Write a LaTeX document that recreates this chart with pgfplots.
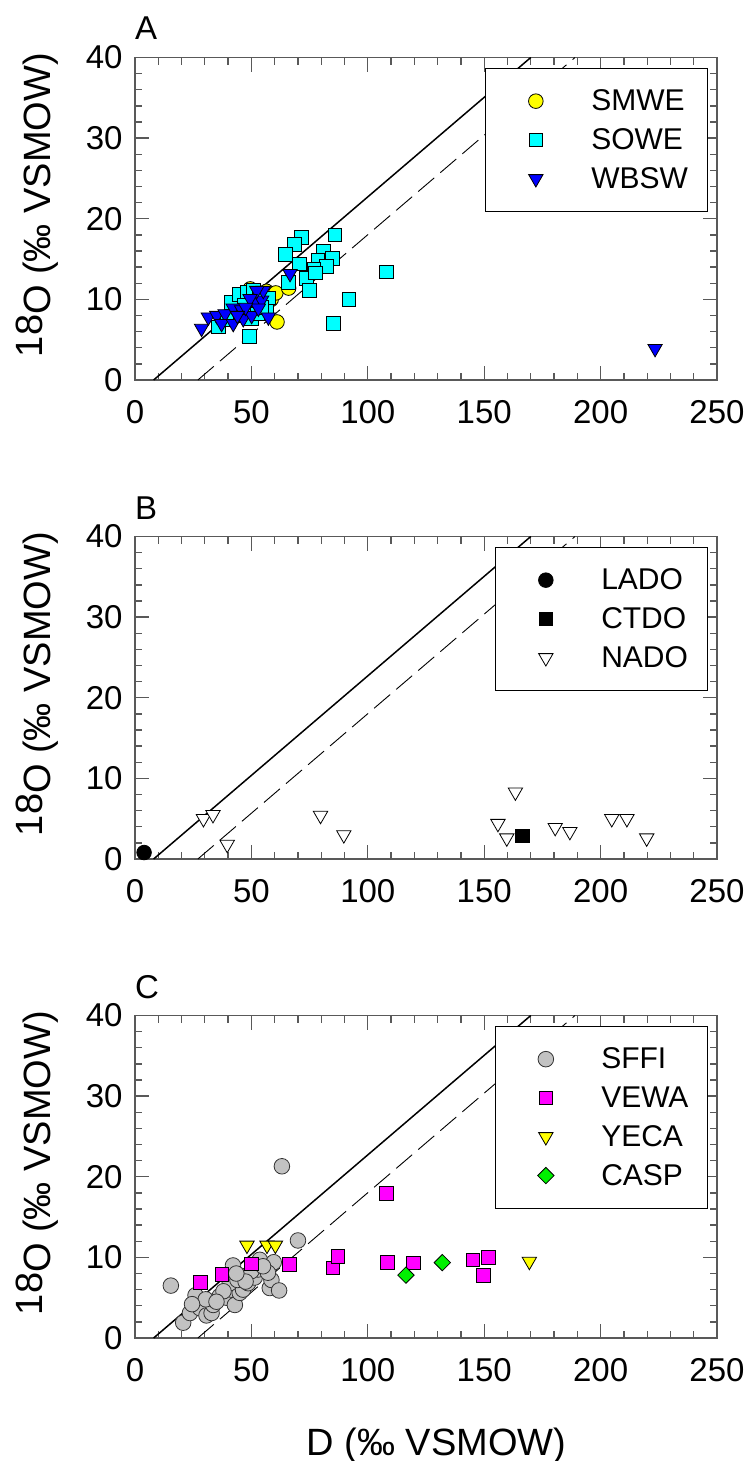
\documentclass[border=0pt]{standalone}
\usepackage{fontspec}
\setmainfont{Liberation Sans}
\usepackage{pgfplots}
\pgfplotsset{compat=1.18}

\definecolor{framegray}{gray}{0.35}
\definecolor{sffigray}{gray}{0.76}
\definecolor{smwe}{RGB}{255,255,0}
\definecolor{sowe}{RGB}{0,255,255}
\definecolor{wbsw}{RGB}{0,0,255}
\definecolor{vewa}{RGB}{255,0,255}
\definecolor{casp}{RGB}{0,240,0}

\pgfplotsset{
  panel/.style={
    scale only axis, width=582pt, height=322.5pt,
    xmin=0, xmax=250, ymin=0, ymax=40,
    xtick={0,50,...,250}, ytick={0,10,...,40},
    minor x tick num=4, minor y tick num=4,
    tick align=inside,
    major tick length=14pt, minor tick length=7pt,
    axis line style={framegray, line width=1.6pt},
    tick style={framegray, line width=1.3pt},
    /pgf/number format/assume math mode=true,
    tick label style={font=\fontsize{33}{40}\selectfont},
    xticklabel style={yshift=-17pt},
    yticklabel style={xshift=-9pt},
    ylabel={\raisebox{8pt}{18}O (‰ VSMOW)},
    ylabel style={at={(axis description cs:-0.146,0.5426)}, anchor=base,
      font=\fontsize{38}{44}\selectfont},
    legend cell align=left,
    legend style={at={(1,1)}, anchor=north east, xshift=-9pt, yshift=-10pt,
      draw=black, line width=1.5pt, fill=white,
      inner xsep=0pt, inner ysep=13.5pt, row sep=0pt, column sep=0pt,
      font=\fontsize{30}{36}\selectfont, nodes={inner sep=0pt}},
    legend image code/.code={%
      \path (0pt,-19pt) (105pt,19pt);
      \draw[##1] plot coordinates {(50pt,0pt)};},
  },
  mk/.style={only marks, line width=0.8pt},
  meteoric/.style={black, line width=1.5pt, forget plot},
  offset/.style={black, line width=0.9pt, dash pattern=on 21pt off 8pt, forget plot},
}

\begin{document}
\begin{tikzpicture}

% ---------------- Panel A ----------------
\begin{axis}[panel, at={(135pt,-380pt)}, anchor=south west]
\addplot[mk, mark=*, mark size=7.3pt, mark options={fill=smwe, draw=black}] table {
x y
49.5 11.3
56.5 11.0
58.5 10.0
60.5 10.8
61.0 7.2
66.0 11.4
55.0 9.0
};
\addlegendentry{\makebox[116pt][l]{SMWE}}
\addplot[mk, mark=square*, mark size=6.8pt, mark options={fill=sowe, draw=black}] table {
x y
71.6 17.7
68.4 16.8
64.6 15.6
85.9 18.0
80.9 16.0
84.8 15.1
78.5 14.8
82.3 14.1
76.8 13.8
70.6 14.4
73.6 12.6
74.9 11.1
65.9 12.1
77.5 13.3
108.1 13.4
91.8 10.0
85.1 7.0
49.1 5.4
41.5 9.6
44.9 10.6
48.1 10.9
50.8 11.1
35.8 6.6
50.1 7.6
56.6 8.7
53.5 10.3
47.0 9.3
44.0 8.0
39.5 7.5
52.5 8.2
57.5 10.2
54.5 9.0
};
\addlegendentry{\makebox[116pt][l]{SOWE}}
\addplot[mk, mark=triangle*, mark size=8.3pt, mark options={rotate=180, fill=wbsw, draw=black}] table {
x y
28.6 6.4
31.5 7.8
35.1 8.0
38.7 8.2
37.2 7.0
42.2 8.9
42.2 7.0
45.8 8.7
46.5 7.6
50.1 8.0
51.5 9.7
54.4 9.9
55.1 11.1
52.3 11.1
53.0 8.9
57.3 7.8
49.4 10.1
47.5 9.0
44.0 8.0
66.6 13.2
223.4 3.9
};
\addlegendentry{\makebox[116pt][l]{WBSW}}
\addplot[meteoric] coordinates {(8,0) (170,40)};
\addplot[offset] coordinates {(27,0) (189,40)};
\end{axis}
\node[anchor=base west, inner sep=0pt, font=\fontsize{33}{40}\selectfont] at (135pt,-40pt) {A};

% ---------------- Panel B ----------------
\begin{axis}[panel, at={(135pt,-859pt)}, anchor=south west]
\addplot[mk, mark=*, mark size=7.3pt, mark options={fill=black, draw=black}] table {
x y
3.9 0.8
};
\addlegendentry{\makebox[106pt][l]{LADO}}
\addplot[mk, mark=square*, mark size=6.8pt, mark options={fill=black, draw=black}] table {
x y
166.3 2.85
};
\addlegendentry{\makebox[106pt][l]{CTDO}}
\addplot[mk, mark=triangle*, mark size=8.3pt, mark options={rotate=180, fill=white, draw=black}] table {
x y
29.4 5.0
33.5 5.5
39.6 1.8
79.7 5.4
89.7 3.0
155.9 4.4
159.7 2.6
163.4 8.3
180.5 3.9
186.8 3.4
204.8 5.0
211.3 5.0
219.8 2.6
};
\addlegendentry{\makebox[106pt][l]{NADO}}
\addplot[meteoric] coordinates {(8,0) (170,40)};
\addplot[offset] coordinates {(27,0) (189,40)};
\end{axis}
\node[anchor=base west, inner sep=0pt, font=\fontsize{33}{40}\selectfont] at (135pt,-519pt) {B};

% ---------------- Panel C ----------------
\begin{axis}[panel, at={(135pt,-1338pt)}, anchor=south west,
  xlabel={D (‰ VSMOW)},
  xlabel style={at={(axis description cs:0.518,-0.3628)}, anchor=base,
    font=\fontsize{38}{44}\selectfont}]
\addplot[mk, mark=*, mark size=7.8pt, mark options={fill=sffigray, draw=black!80}] table {
x y
63.1 21.3
70.0 12.1
15.4 6.5
20.7 1.9
26.0 5.3
23.6 3.1
27.9 3.7
30.7 2.8
32.9 3.1
33.6 4.1
30.4 4.8
36.4 5.2
39.3 5.0
41.4 6.0
42.9 4.1
45.0 5.6
46.4 6.0
42.1 9.0
45.7 7.7
48.6 6.8
51.4 7.5
52.9 8.5
53.6 9.7
57.9 6.2
58.6 7.2
59.6 9.4
61.9 5.9
57.1 8.1
40.7 6.8
44.0 7.2
50.0 8.3
55.0 8.9
47.5 7.0
43.5 8.0
38.0 5.8
35.0 4.5
24.5 4.2
};
\addlegendentry{\makebox[106pt][l]{SFFI}}
\addplot[mk, mark=square*, mark size=6.8pt, mark options={fill=vewa, draw=black}] table {
x y
28.0 6.9
37.4 7.9
50.0 9.2
66.4 9.1
85.0 8.7
87.1 10.1
108.1 17.9
108.3 9.4
119.5 9.3
145.1 9.7
151.8 10.0
149.6 7.8
};
\addlegendentry{\makebox[106pt][l]{VEWA}}
\addplot[mk, mark=triangle*, mark size=8.3pt, mark options={rotate=180, fill=smwe, draw=black}] table {
x y
48.1 11.5
56.7 11.5
60.3 11.5
169.4 9.5
};
\addlegendentry{\makebox[106pt][l]{YECA}}
\addplot[mk, mark=square*, mark size=5.8pt, mark options={rotate=45, fill=casp, draw=black}] table {
x y
116.4 7.8
132.0 9.35
};
\addlegendentry{\makebox[106pt][l]{CASP}}
\addplot[meteoric] coordinates {(8,0) (170,40)};
\addplot[offset] coordinates {(27,0) (189,40)};
\end{axis}
\node[anchor=base west, inner sep=0pt, font=\fontsize{33}{40}\selectfont] at (135pt,-998pt) {C};

\pgfresetboundingbox
\path[use as bounding box] (0pt,0pt) rectangle (749pt,-1461pt);
\end{tikzpicture}
\end{document}
